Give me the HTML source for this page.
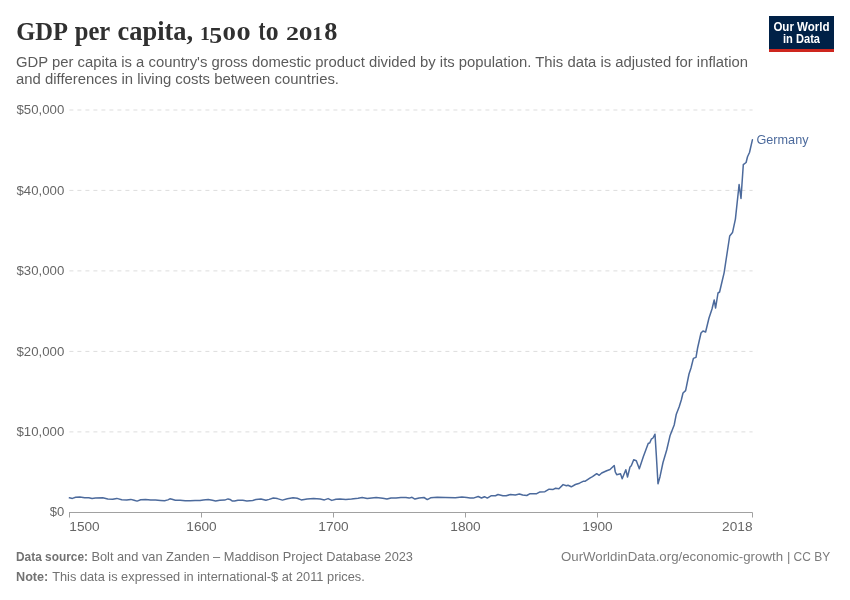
<!DOCTYPE html>
<html><head><meta charset="utf-8"><title>GDP per capita, 1500 to 2018</title>
<style>
html,body{margin:0;padding:0;background:#fff;}
body{width:850px;height:600px;overflow:hidden;font-family:"Liberation Sans",sans-serif;}
svg{display:block;will-change:transform;}
text{font-family:"Liberation Sans",sans-serif;}
.serif,.serif text{font-family:"Liberation Serif",serif;}
</style></head><body>
<svg width="850" height="600" viewBox="0 0 850 600">
<rect width="850" height="600" fill="#fff"/>
<!-- header -->
<g class="serif" font-weight="bold" fill="#303030">
<text transform="translate(199.91,39.75) scale(0.991,0.890)" font-size="20">1</text>
<text transform="translate(209.27,42.68) scale(1.287,1.121)" font-size="20">5</text>
<text transform="translate(222.48,39.82) scale(1.345,0.904)" font-size="20">0</text>
<text transform="translate(236.62,39.82) scale(1.416,0.904)" font-size="20">0</text>
<text transform="translate(286.01,39.75) scale(1.301,0.902)" font-size="20">2</text>
<text transform="translate(298.75,39.82) scale(1.380,0.904)" font-size="20">0</text>
<text transform="translate(312.20,39.75) scale(1.059,0.890)" font-size="20">1</text>
<text transform="translate(324.13,39.75) scale(1.315,1.282)" font-size="20">8</text>
<text transform="translate(258.46,39.71) scale(1.040,1.467)" font-size="20">t</text>
<text transform="translate(265.82,39.73) scale(1.286,1.362)" font-size="20">o</text>
<text transform="translate(16.20,40) scale(0.981,1.0)" font-size="25">GDP</text>
<text transform="translate(74.69,40) scale(0.985,1.12)" font-size="25">per</text>
<text transform="translate(117.60,40) scale(1.056,1.12)" font-size="25">capita,</text>
</g>
<text x="16" y="66.5" font-size="14" fill="#5b5b5b" textLength="732" lengthAdjust="spacingAndGlyphs">GDP per capita is a country's gross domestic product divided by its population. This data is adjusted for inflation</text>
<text x="16" y="83.5" font-size="14" fill="#5b5b5b" textLength="323" lengthAdjust="spacingAndGlyphs">and differences in living costs between countries.</text>
<!-- logo -->
<rect x="769" y="16" width="65" height="36" fill="#002147"/>
<rect x="769" y="49" width="65" height="3" fill="#ce261e"/>
<text x="801.5" y="30.5" font-size="12" font-weight="bold" fill="#fff" text-anchor="middle" textLength="56.2" lengthAdjust="spacingAndGlyphs">Our World</text>
<text x="801.5" y="43" font-size="12" font-weight="bold" fill="#fff" text-anchor="middle" textLength="37" lengthAdjust="spacingAndGlyphs">in Data</text>
<!-- grid -->
<g stroke="#ddd" stroke-width="1" stroke-dasharray="4,4" fill="none">
<line x1="69.4" x2="752.6" y1="110" y2="110"/>
<line x1="69.4" x2="752.6" y1="190.4" y2="190.4"/>
<line x1="69.4" x2="752.6" y1="270.9" y2="270.9"/>
<line x1="69.4" x2="752.6" y1="351.4" y2="351.4"/>
<line x1="69.4" x2="752.6" y1="431.9" y2="431.9"/>
</g>
<g font-size="13" fill="#666" text-anchor="end">
<text x="64.3" y="114.4" textLength="47.8" lengthAdjust="spacingAndGlyphs">$50,000</text>
<text x="64.3" y="194.8" textLength="47.8" lengthAdjust="spacingAndGlyphs">$40,000</text>
<text x="64.3" y="275.3" textLength="47.8" lengthAdjust="spacingAndGlyphs">$30,000</text>
<text x="64.3" y="355.8" textLength="47.8" lengthAdjust="spacingAndGlyphs">$20,000</text>
<text x="64.3" y="436.3" textLength="47.8" lengthAdjust="spacingAndGlyphs">$10,000</text>
<text x="64.3" y="516.3">$0</text>
</g>
<!-- x axis -->
<g stroke="#a1a1a1" stroke-width="1" fill="none">
<line x1="69" x2="752.5" y1="512.5" y2="512.5"/>
<line x1="69.5" x2="69.5" y1="512.5" y2="517.5"/>
<line x1="201.5" x2="201.5" y1="512.5" y2="517.5"/>
<line x1="333.5" x2="333.5" y1="512.5" y2="517.5"/>
<line x1="465.5" x2="465.5" y1="512.5" y2="517.5"/>
<line x1="597.5" x2="597.5" y1="512.5" y2="517.5"/>
<line x1="752.5" x2="752.5" y1="512.5" y2="517.5"/>
</g>
<g font-size="13" fill="#666">
<text x="69.3" y="530.7" textLength="30.4" lengthAdjust="spacingAndGlyphs">1500</text>
<text x="201.5" y="530.7" text-anchor="middle" textLength="30.4" lengthAdjust="spacingAndGlyphs">1600</text>
<text x="333.5" y="530.7" text-anchor="middle" textLength="30.4" lengthAdjust="spacingAndGlyphs">1700</text>
<text x="465.5" y="530.7" text-anchor="middle" textLength="30.4" lengthAdjust="spacingAndGlyphs">1800</text>
<text x="597.5" y="530.7" text-anchor="middle" textLength="30.4" lengthAdjust="spacingAndGlyphs">1900</text>
<text x="752.5" y="530.7" text-anchor="end" textLength="30.4" lengthAdjust="spacingAndGlyphs">2018</text>
</g>
<!-- line -->
<path d="M69.4,497.8 L72.4,498.4 L75.6,497.3 L79.8,497.1 L84.7,497.8 L88.8,497.8 L92.1,498.4 L95.4,498.0 L102.8,497.8 L107.8,499.1 L112.7,499.3 L116.8,498.4 L121.8,499.8 L126.7,500.1 L130.8,499.4 L134.1,500.3 L137.1,501.1 L140.7,499.8 L145.6,499.6 L150.6,500.1 L155.5,499.9 L160.5,500.4 L164.6,500.8 L167.9,499.9 L169.9,498.8 L172.0,499.3 L175.3,500.3 L180.2,500.3 L185.2,500.8 L190.1,500.8 L195.1,500.4 L200.0,500.6 L203.3,500.1 L208.2,499.6 L212.4,500.3 L215.6,501.1 L219.8,500.3 L224.7,500.1 L228.0,498.9 L230.0,499.4 L232.1,500.9 L234.6,501.1 L237.9,500.3 L242.8,500.3 L246.9,500.9 L252.7,500.4 L256.0,499.6 L260.9,499.1 L265.9,500.3 L269.2,499.4 L273.3,498.0 L277.4,498.6 L282.4,500.1 L287.3,498.8 L293.1,497.8 L297.2,498.3 L301.3,499.9 L307.1,499.1 L313.6,498.6 L320.2,498.9 L324.4,499.9 L328.1,498.6 L331.8,500.4 L335.9,499.3 L340.0,498.9 L345.8,499.6 L351.5,499.1 L358.1,498.3 L362.2,497.6 L367.2,498.4 L376.2,497.5 L382.8,498.3 L386.9,499.1 L391.1,498.0 L396.0,498.1 L400.9,497.5 L405.9,497.5 L409.2,498.1 L412.0,497.3 L414.9,499.1 L419.1,498.1 L424.0,497.5 L427.3,499.6 L430.6,497.8 L437.2,497.3 L445.4,497.6 L455.3,497.8 L461.9,497.1 L466.8,497.6 L470.1,498.0 L473.3,498.1 L478.2,496.5 L481.5,498.0 L484.5,496.7 L487.3,498.1 L491.4,495.7 L495.5,495.7 L498.0,494.5 L502.9,495.7 L506.2,495.8 L510.4,494.5 L515.3,495.0 L519.4,494.0 L522.7,495.0 L526.8,495.5 L530.1,493.7 L536.7,493.7 L540.0,491.9 L544.9,491.7 L549.1,489.2 L553.2,489.4 L555.6,488.3 L558.9,488.8 L563.1,484.6 L566.4,485.8 L568.0,485.3 L571.3,486.8 L575.4,484.5 L579.5,483.2 L583.6,481.2 L585.3,481.2 L590.2,477.9 L592.5,476.7 L596.7,473.7 L599.2,475.3 L601.7,473.0 L606.7,470.7 L610.0,469.5 L614.2,465.5 L615.3,472.0 L616.7,474.7 L620.5,473.7 L622.2,478.8 L625.8,469.7 L627.5,477.0 L630.0,467.0 L631.3,465.8 L633.7,459.7 L636.3,460.8 L639.3,468.8 L643.3,456.7 L648.3,443.3 L649.7,443.0 L651.3,439.2 L653.0,438.0 L655.0,434.2 L656.3,455.0 L658.0,483.7 L660.0,476.7 L663.0,462.5 L666.7,450.0 L670.0,435.8 L674.2,425.0 L676.3,414.2 L679.2,406.7 L681.3,400.0 L683.0,393.0 L685.6,390.6 L689.0,374.0 L691.0,368.0 L693.4,358.4 L696.0,357.4 L697.6,348.0 L701.0,333.0 L703.0,331.0 L705.6,332.0 L709.0,318.0 L712.0,309.0 L714.2,300.0 L715.6,308.0 L718.0,293.0 L719.6,292.0 L722.4,280.0 L724.1,272.8 L729.7,236.0 L732.5,232.6 L735.4,219.1 L739.1,184.5 L741.0,198.4 L743.3,164.7 L746.1,162.5 L747.5,156.8 L749.5,152.5 L752.4,139.8" fill="none" stroke="#4c6a9c" stroke-width="1.5" stroke-linejoin="round" stroke-linecap="round"/>
<text x="756.5" y="143.7" font-size="13" fill="#4c6a9c" textLength="52" lengthAdjust="spacingAndGlyphs">Germany</text>
<!-- footer -->
<g font-size="13" fill="#727272">
<text x="16" y="561" font-weight="bold" textLength="72" lengthAdjust="spacingAndGlyphs">Data source:</text>
<text x="91.4" y="561" textLength="321.6" lengthAdjust="spacingAndGlyphs">Bolt and van Zanden – Maddison Project Database 2023</text>
<text x="16" y="581" font-weight="bold" textLength="32.3" lengthAdjust="spacingAndGlyphs">Note:</text>
<text x="52.2" y="581" textLength="312.5" lengthAdjust="spacingAndGlyphs">This data is expressed in international-$ at 2011 prices.</text>
<text x="561" y="561" fill="#7c7c7c" textLength="222" lengthAdjust="spacingAndGlyphs">OurWorldinData.org/economic-growth</text>
<text x="787" y="561" fill="#7c7c7c">|</text>
<text x="793.6" y="561" fill="#7c7c7c" textLength="36.6" lengthAdjust="spacingAndGlyphs">CC BY</text>
</g>
</svg>
</body></html>
